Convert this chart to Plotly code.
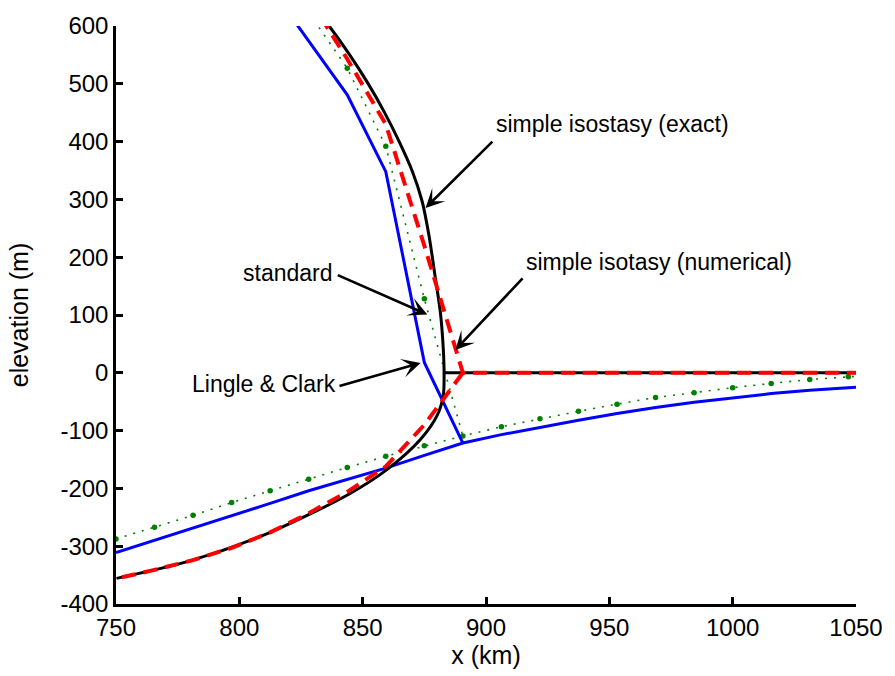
import plotly.graph_objects as go

# Grid nodes (km) used by the numerical runs
node_x = [750.0, 765.625, 781.25, 796.875, 812.5, 828.125, 843.75, 859.375,
          875.0, 890.625, 906.25, 921.875, 937.5, 953.125, 968.75, 984.375,
          1000.0, 1015.625, 1031.25, 1046.875]
end_x = 1050.0

# "standard": bed at the nodes and ice surface near the grounding line
std_bed = [-287.5, -267.1, -246.6, -224.5, -204.1, -184.2, -163.7, -144.5,
           -126.2, -109.2, -93.3, -79.7, -66.6, -54.2, -42.8, -34.3,
           -25.7, -18.4, -11.6, -7.0]
std_bed_end = -6.2
std_surf_x = [828.125, 843.75, 859.375, 875.0, 890.625]
std_surf_y = [623.0, 527.0, 392.0, 128.0, -109.2]

# Lingle & Clark
lc_bed = [-311.0, -290.0, -269.0, -247.0, -226.0, -204.0, -185.0, -165.0,
          -143.0, -121.5, -107.0, -94.0, -82.0, -70.5, -60.0, -51.0,
          -43.0, -36.0, -30.0, -26.0]
lc_bed_end = -25.0
lc_surf_x = [812.5, 828.125, 843.75, 859.375, 875.0, 890.625]
lc_surf_y = [667.0, 575.0, 481.0, 348.0, 18.0, -121.5]

# simple isostasy, numerical
num_top_x = [828.125, 843.75, 859.375, 875.0, 890.625, 1050.0]
num_top_y = [648.0, 543.0, 430.0, 220.0, 0.0, 0.0]
num_bot_x = [890.625, 875.0, 859.375, 843.75, 828.125, 812.5, 796.875,
             781.25, 765.625, 750.0]
num_bot_y = [0.0, -90.0, -162.0, -206.0, -243.0, -276.0, -303.0,
             -324.0, -341.0, -356.0]

# simple isostasy, exact profile (surface down to grounding line, then base)
ex_x = [834.8, 836.4, 844.4, 852.1, 858.9, 864.9, 870.2, 874.1, 876.9,
        879.3, 881.6, 882.7, 883.0, 882.7, 880.3, 873.4, 860.1, 844.0,
        811.8, 779.6, 750.2]
ex_y = [608.5, 600.0, 552.3, 501.2, 450.1, 399.0, 347.9, 296.8, 237.1,
        169.0, 100.9, 40.0, 0.0, -38.8, -72.9, -115.5, -166.6, -210.9,
        -277.3, -325.9, -355.7]
ex_flat_x = [883.0, 1050.0]
ex_flat_y = [0.0, 0.0]

# Labels: (text, text x, text y, anchor, arrow tail x, tail y, tip x, tip y)
labels = [
    ("simple isostasy (exact)", 903.3, 431.0, "left", 903.2, 402.4, 875.5, 285.3),
    ("simple isotasy (numerical)", 915.4, 192.5, "left", 915.4, 166.0, 887.6, 39.5),
    ("standard", 838.6, 172.5, "right", 839.3, 170.2, 876.2, 100.9),
    ("Lingle & Clark", 840.0, -19.5, "right", 840.0, -23.5, 873.5, 16.9),
]

x_ticks = [750, 800, 850, 900, 950, 1000, 1050]
y_ticks = [-400, -300, -200, -100, 0, 100, 200, 300, 400, 500, 600]
y_tick_text = [str(v) for v in y_ticks]

GREEN = "#008000"
FONT = "Liberation Sans, Arial, sans-serif"

fig = go.Figure()

# standard (green dotted with point markers at nodes)
fig.add_trace(go.Scatter(x=node_x + [end_x], y=std_bed + [std_bed_end],
                         mode="lines", line=dict(color=GREEN, width=1.6, dash="2px,7px"),
                         hoverinfo="skip", showlegend=False))
fig.add_trace(go.Scatter(x=std_surf_x, y=std_surf_y, mode="lines",
                         line=dict(color=GREEN, width=1.6, dash="2px,7px"),
                         hoverinfo="skip", showlegend=False))
fig.add_trace(go.Scatter(x=node_x + std_surf_x[:-1], y=std_bed + std_surf_y[:-1],
                         mode="markers", marker=dict(color=GREEN, size=5.5),
                         hoverinfo="skip", showlegend=False))

# Lingle & Clark (blue)
fig.add_trace(go.Scatter(x=node_x + [end_x], y=lc_bed + [lc_bed_end], mode="lines",
                         line=dict(color="#0000ff", width=3),
                         hoverinfo="skip", showlegend=False))
fig.add_trace(go.Scatter(x=lc_surf_x, y=lc_surf_y, mode="lines",
                         line=dict(color="#0000ff", width=3),
                         hoverinfo="skip", showlegend=False))

# exact (black)
fig.add_trace(go.Scatter(x=ex_flat_x, y=ex_flat_y, mode="lines",
                         line=dict(color="black", width=3),
                         hoverinfo="skip", showlegend=False))
fig.add_trace(go.Scatter(x=ex_x, y=ex_y, mode="lines",
                         line=dict(color="black", width=3, shape="spline", smoothing=0.8),
                         hoverinfo="skip", showlegend=False))

# numerical (red dashed)
for xs, ys in ((num_top_x, num_top_y), (num_bot_x, num_bot_y)):
    fig.add_trace(go.Scatter(x=xs, y=ys, mode="lines",
                             line=dict(color="#ff0000", width=4, dash="14px,8px"),
                             hoverinfo="skip", showlegend=False))

annotations = []
for text, tx, ty, anchor, ax, ay, px, py in labels:
    annotations.append(dict(x=px, y=py, ax=ax, ay=ay, xref="x", yref="y",
                            axref="x", ayref="y", text="", showarrow=True,
                            arrowhead=3, arrowsize=1.2, arrowwidth=2.6,
                            arrowcolor="black", standoff=0, startstandoff=0))
    annotations.append(dict(x=tx, y=ty, xref="x", yref="y", text=text,
                            showarrow=False, xanchor=anchor, yanchor="middle",
                            font=dict(family=FONT, size=23, color="black")))

axis_common = dict(showgrid=False, zeroline=False, showline=True, linecolor="black",
                   linewidth=2.5, ticks="inside", ticklen=7, tickwidth=2.5,
                   tickcolor="black", mirror=False,
                   tickfont=dict(family=FONT, size=24, color="black"))

fig.update_layout(
    width=895, height=676,
    margin=dict(l=116, r=33, t=17, b=72),
    paper_bgcolor="white", plot_bgcolor="white",
    xaxis=dict(range=[750, 1050], tickvals=x_ticks,
               title=dict(text="x (km)", font=dict(family=FONT, size=25, color="black"),
                          standoff=6),
               **axis_common),
    yaxis=dict(range=[-400, 600], tickvals=y_ticks, ticktext=y_tick_text,
               title=dict(text="elevation (m)", font=dict(family=FONT, size=25, color="black"),
                          standoff=25),
               **axis_common),
    annotations=annotations,
)

fig.write_html("out.html")
